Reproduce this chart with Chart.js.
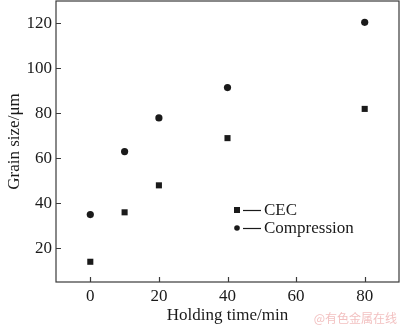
<!DOCTYPE html>
<html>
<head>
<meta charset="utf-8">
<script src="https://cdn.jsdelivr.net/npm/chart.js@4.4.1/dist/chart.umd.min.js"></script>
<style>
  html, body { margin: 0; padding: 0; background: #fff; }
  #wrap { width: 400px; height: 326px; position: relative; }
</style>
</head>
<body>
<div id="wrap"><canvas id="c" width="400" height="326"></canvas></div>
<script>
// Holding time (min) and measured grain size (µm)
const holdingTimes = [0, 10, 20, 40, 80];
const cecGrain = [14, 36, 48, 69, 82];
const compressionGrain = [35, 63, 78, 91.5, 120.5];
const xTickValues = [0, 20, 40, 60, 80];
const yTickValues = [20, 40, 60, 80, 100, 120];
const seriesNames = ['CEC', 'Compression'];

const SERIF = "'Liberation Serif', 'Times New Roman', serif";
const INK = '#1a1a1a';
const AXIS = '#3a3a3a';

// Frame around the plot with ticks pointing inward
const framePlugin = {
  id: 'frame',
  afterDraw(chart) {
    const { ctx, chartArea: a, scales } = chart;
    ctx.save();
    ctx.strokeStyle = AXIS;
    ctx.lineWidth = 1.2;
    ctx.strokeRect(a.left, a.top, a.right - a.left, a.bottom - a.top);
    ctx.beginPath();
    scales.x.ticks.forEach(t => {
      const px = Math.round(scales.x.getPixelForValue(t.value)) + 0.5;
      ctx.moveTo(px, a.bottom);
      ctx.lineTo(px, a.bottom - 5);
    });
    scales.y.ticks.forEach(t => {
      const py = Math.round(scales.y.getPixelForValue(t.value)) + 0.5;
      ctx.moveTo(a.left, py);
      ctx.lineTo(a.left + 5, py);
    });
    ctx.stroke();
    ctx.restore();
  }
};

// Legend: marker, short dash, name
const legendPlugin = {
  id: 'markerLegend',
  afterDraw(chart) {
    const { ctx, chartArea: a } = chart;
    const x0 = a.left + 181;
    const rows = [a.top + 209, a.top + 227];
    ctx.save();
    ctx.fillStyle = INK;
    ctx.strokeStyle = INK;
    ctx.lineWidth = 1.2;
    ctx.font = '17px ' + SERIF;
    ctx.textBaseline = 'middle';
    rows.forEach((y, i) => {
      if (i === 0) {
        ctx.fillRect(x0 - 3, y - 3, 6, 6);
      } else {
        ctx.beginPath();
        ctx.arc(x0, y, 2.8, 0, Math.PI * 2);
        ctx.fill();
      }
      ctx.beginPath();
      ctx.moveTo(x0 + 6, y + 0.5);
      ctx.lineTo(x0 + 24, y + 0.5);
      ctx.stroke();
      ctx.fillText(seriesNames[i], x0 + 27, y + 1);
    });
    ctx.restore();
  }
};

// Source mark in the lower right corner
const sourcePlugin = {
  id: 'sourceMark',
  afterDraw(chart) {
    const { ctx } = chart;
    ctx.save();
    ctx.fillStyle = 'rgba(236,165,165,0.7)';
    ctx.font = "12px 'Noto Sans CJK SC', sans-serif";
    ctx.textAlign = 'right';
    ctx.textBaseline = 'middle';
    ctx.fillText('@有色金属在线', 397, 318);
    ctx.restore();
  }
};

new Chart(document.getElementById('c'), {
  type: 'scatter',
  data: {
    datasets: [
      {
        label: seriesNames[0],
        data: holdingTimes.map((t, i) => ({ x: t, y: cecGrain[i] })),
        pointStyle: 'rect',
        pointRadius: 4.3,
        backgroundColor: INK,
        borderColor: INK,
        borderWidth: 0
      },
      {
        label: seriesNames[1],
        data: holdingTimes.map((t, i) => ({ x: t, y: compressionGrain[i] })),
        pointStyle: 'circle',
        pointRadius: 3.6,
        backgroundColor: INK,
        borderColor: INK,
        borderWidth: 0
      }
    ]
  },
  options: {
    responsive: false,
    animation: false,
    devicePixelRatio: 1,
    layout: { autoPadding: false, padding: { top: 1, right: 1, left: 0, bottom: 0 } },
    plugins: { legend: { display: false }, tooltip: { enabled: false } },
    scales: {
      x: {
        type: 'linear',
        min: -10,
        max: 90,
        afterBuildTicks: s => { s.ticks = xTickValues.map(v => ({ value: v })); },
        afterFit: s => { s.height = 44; s.paddingLeft = 0; s.paddingRight = 0; },
        grid: { display: false, drawTicks: false },
        border: { display: false },
        ticks: { color: INK, font: { family: SERIF, size: 17 }, padding: 4, maxRotation: 0 },
        title: {
          display: true,
          text: 'Holding time/min',
          color: INK,
          font: { family: SERIF, size: 17 },
          padding: { top: 0, bottom: 0 }
        }
      },
      y: {
        type: 'linear',
        min: 5,
        max: 130,
        afterBuildTicks: s => { s.ticks = yTickValues.map(v => ({ value: v })); },
        afterFit: s => { s.width = 56; s.paddingTop = 0; s.paddingBottom = 0; },
        grid: { display: false, drawTicks: false },
        border: { display: false },
        ticks: { color: INK, font: { family: SERIF, size: 17 }, padding: 4 },
        title: {
          display: true,
          text: 'Grain size/μm',
          color: INK,
          font: { family: SERIF, size: 17 },
          padding: { top: 4, bottom: 0 }
        }
      }
    }
  },
  plugins: [framePlugin, legendPlugin, sourcePlugin]
});
</script>
</body>
</html>
